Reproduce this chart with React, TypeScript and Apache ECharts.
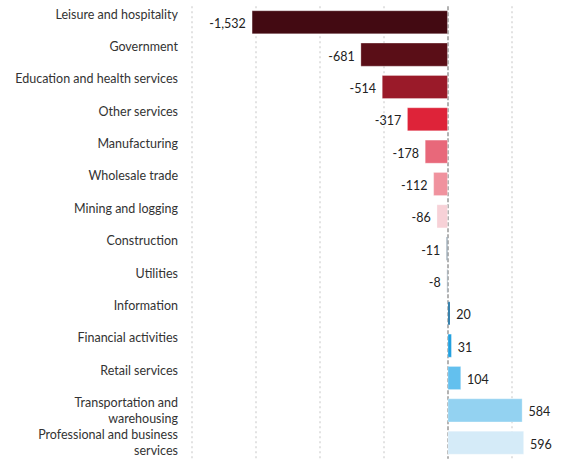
import React, { useEffect, useRef } from "react";
import * as echarts from "echarts";

const categories = [
  "Leisure and hospitality",
  "Government",
  "Education and health services",
  "Other services",
  "Manufacturing",
  "Wholesale trade",
  "Mining and logging",
  "Construction",
  "Utilities",
  "Information",
  "Financial activities",
  "Retail services",
  "Transportation and warehousing",
  "Professional and business services",
];

const values = [-1532, -681, -514, -317, -178, -112, -86, -11, -8, 20, 31, 104, 584, 596];

const gridTicks = [-2000, -1500, -1000, -500, 500];

const barColors = [
  "#430a12",
  "#5a0e17",
  "#9a1a29",
  "#de2339",
  "#e8687a",
  "#f0929e",
  "#f7d1d7",
  "#3e5b74",
  "#3e5b74",
  "#1a6e9f",
  "#20a0df",
  "#63c0ee",
  "#93d2f1",
  "#d5ebf8",
];

const wrapped: Record<string, string> = {
  "Transportation and warehousing": "Transportation and\nwarehousing",
  "Professional and business services": "Professional and business\nservices",
};

const FONT = "Lato";

function fmt(v: number): string {
  const s = Math.abs(v).toLocaleString("en-US");
  return v < 0 ? "-" + s : s;
}

export default function App() {
  const ref = useRef<HTMLDivElement>(null);
  useEffect(() => {
    if (!ref.current) return;
    const chart = echarts.init(ref.current, null, { renderer: "svg" });
    chart.setOption({
      animation: false,
      grid: { left: 192, right: 16, top: 3, bottom: 4, containLabel: false },
      xAxis: {
        type: "value",
        min: -2000,
        max: 800,
        axisLabel: { show: false },
        axisTick: { show: false },
        axisLine: { show: false },
        splitLine: { show: false },
      },
      yAxis: {
        type: "category",
        inverse: true,
        data: categories,
        axisLine: { show: false },
        axisTick: { show: false },
        axisLabel: {
          interval: 0,
          margin: 14,
          fontFamily: FONT,
          fontSize: 12.5,
          color: "#333",
          lineHeight: 16,
          padding: [13, 0, 0, 0],
          formatter: (v: string) => wrapped[v] || v + "\n ",
        },
      },
      series: [
        {
          type: "bar",
          barCategoryGap: "27%",
          z: 3,
          data: values.map((v, i) => ({
            value: v,
            itemStyle: { color: barColors[i] },
            label: { position: v < 0 ? "left" : "right" },
          })),
          itemStyle: { borderColor: "rgba(255,255,255,0.6)", borderWidth: 0.5 },
          label: {
            show: true,
            fontFamily: FONT,
            fontSize: 12.5,
            color: "#222",
            distance: 6,
            offset: [0, 1.5],
            formatter: (p: any) => fmt(p.value),
          },
          markLine: {
            silent: true,
            symbol: "none",
            z: 1,
            label: { show: false },
            data: [
              ...gridTicks.map((t) => ({
                xAxis: t,
                lineStyle: { color: "#d9d9d9", type: [2, 3], width: 1.5 },
              })),
              {
                xAxis: 0,
                lineStyle: { color: "#999", type: [4, 2], width: 1.5 },
              },
            ],
          },
        },
      ],
    });
    return () => chart.dispose();
  }, []);
  return (
    <div
      ref={ref}
      style={{ position: "absolute", left: 0, top: 0, width: 566, height: 465 }}
    />
  );
}
